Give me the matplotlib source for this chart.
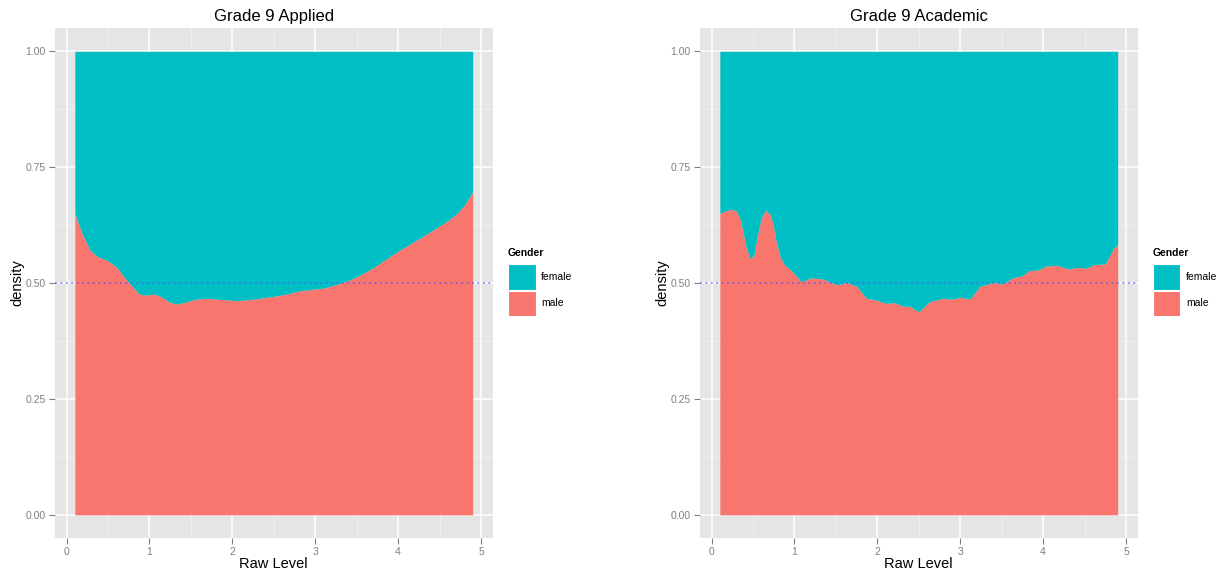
import matplotlib.pyplot as plt
import numpy as np

plt.rcParams['font.family'] = ['Liberation Sans', 'DejaVu Sans']

# male share (boundary between male and female fill)
applied_x = [0.10, 0.18, 0.28, 0.38, 0.48, 0.60, 0.70, 0.76, 0.82, 0.88, 0.95, 1.06, 1.15,
             1.24, 1.32, 1.42, 1.55, 1.69, 1.85, 2.05, 2.25, 2.49, 2.65, 2.81, 2.95, 3.10,
             3.20, 3.30, 3.42, 3.54, 3.70, 3.85, 4.02, 4.20, 4.42, 4.58, 4.71, 4.80, 4.90]
applied_y = [0.650, 0.610, 0.571, 0.556, 0.550, 0.535, 0.512, 0.499, 0.487, 0.476, 0.474, 0.476,
             0.470, 0.459, 0.455, 0.458, 0.465, 0.467, 0.465, 0.462, 0.465, 0.471, 0.476,
             0.483, 0.486, 0.489, 0.494, 0.499, 0.507, 0.517, 0.533, 0.551, 0.571, 0.590,
             0.614, 0.632, 0.650, 0.668, 0.697]

academic_x = [0.10, 0.17, 0.24, 0.30, 0.34, 0.38, 0.42, 0.47, 0.51, 0.55, 0.60, 0.65, 0.70,
              0.74, 0.78, 0.83, 0.88, 0.98, 1.08, 1.20, 1.34, 1.51, 1.63, 1.75, 1.87,
              1.99, 2.11, 2.21, 2.31, 2.39, 2.50, 2.63, 2.79, 2.89, 3.00, 3.12, 3.24,
              3.40, 3.52, 3.64, 3.74, 3.84, 3.94, 4.04, 4.18, 4.30, 4.42, 4.52, 4.62,
              4.75, 4.85, 4.90]
academic_y = [0.650, 0.656, 0.659, 0.655, 0.640, 0.610, 0.575, 0.552, 0.560, 0.600, 0.640,
              0.657, 0.650, 0.629, 0.590, 0.555, 0.539, 0.524, 0.503, 0.511, 0.509, 0.496,
              0.501, 0.493, 0.467, 0.463, 0.456, 0.458, 0.450, 0.450, 0.438, 0.460, 0.467,
              0.465, 0.469, 0.466, 0.493, 0.501, 0.498, 0.512, 0.515, 0.527, 0.528, 0.537,
              0.538, 0.530, 0.534, 0.532, 0.540, 0.541, 0.575, 0.583]

panels = [("Grade 9 Applied", applied_x, applied_y, 0.0451),
          ("Grade 9 Academic", academic_x, academic_y, 0.5742)]
genders = ["female", "male"]

c_female = "#00BFC4"
c_male = "#F8766D"
grey_bg = "#E5E5E5"

fig = plt.figure(figsize=(12.19, 5.71), dpi=100)

for title, xs, ys, left in panels:
    ax = fig.add_axes([left, 0.0578, 0.359, 0.893])
    ax.set_facecolor(grey_bg)
    xs = np.array(xs)
    ys = np.array(ys)
    ax.fill_between(xs, 0, ys, color=c_male, lw=0, zorder=2)
    ax.fill_between(xs, ys, 1, color=c_female, lw=0, zorder=2)
    ax.axhline(0.5, color="#5555ff", alpha=0.7, ls=(0, (1, 2)), lw=1.3, zorder=3)

    ax.set_xlim(-0.14, 5.14)
    ax.set_ylim(-0.05, 1.05)
    ax.set_xticks([0, 1, 2, 3, 4, 5])
    ax.set_yticks([0, 0.25, 0.5, 0.75, 1.0])
    ax.set_yticklabels(["0.00", "0.25", "0.50", "0.75", "1.00"])
    ax.set_xticks([0.5, 1.5, 2.5, 3.5, 4.5], minor=True)
    ax.set_yticks([0.125, 0.375, 0.625, 0.875], minor=True)
    ax.grid(True, which="major", color="white", lw=1.1, zorder=0)
    ax.grid(True, which="minor", color="#F2F2F2", lw=0.6, zorder=0)
    ax.set_axisbelow(True)
    ax.tick_params(which="major", length=4, color="#7F7F7F", labelcolor="#7F7F7F",
                   labelsize=7.5, width=0.8, pad=2.5)
    ax.tick_params(which="minor", length=0)
    for s in ax.spines.values():
        s.set_visible(False)

    ax.set_title(title, fontsize=12, pad=5)
    ax.set_xlabel("Raw Level", fontsize=10.5, labelpad=0)
    ax.set_ylabel("density", fontsize=10.5, labelpad=1)

    # legend drawn by hand, ggplot style
    lx = left + 0.359 + 0.0127
    fig.text(lx, 0.557, "Gender", fontsize=7.5, fontweight="bold", va="center")
    for i, (g, c) in enumerate(zip(genders, [c_female, c_male])):
        yb = 0.492 - i * 0.046
        fig.patches.append(plt.Rectangle((lx, yb), 0.0225, 0.045, transform=fig.transFigure,
                                         facecolor=c, edgecolor="white", lw=0.8))
        fig.text(lx + 0.027, yb + 0.0225, g, fontsize=7.5, va="center")

fig.savefig("out.png", dpi=100)
